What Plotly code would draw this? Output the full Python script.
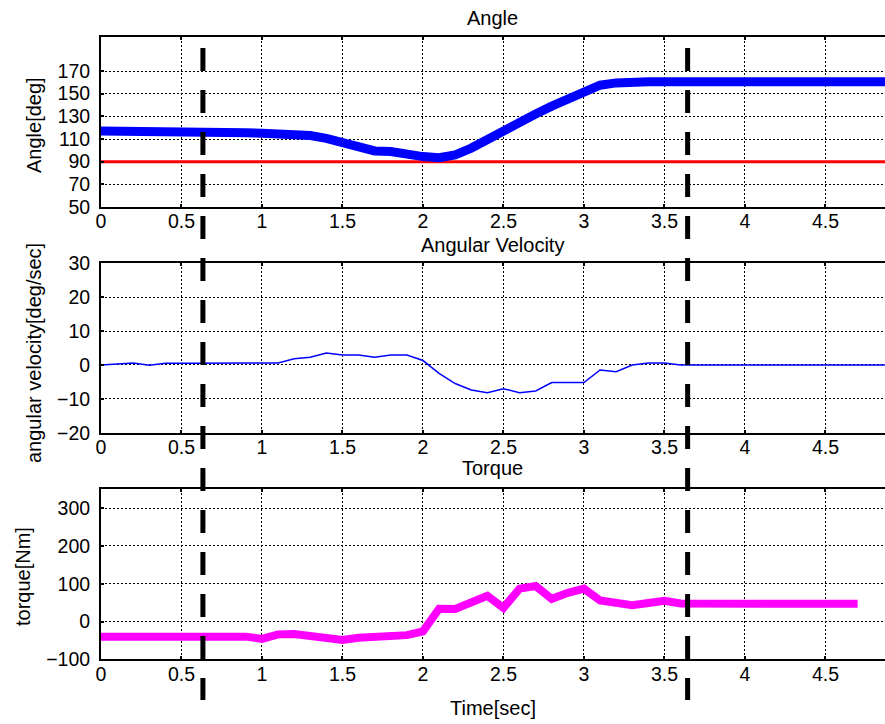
import plotly.graph_objects as go
from plotly.subplots import make_subplots

# ---- data ----
time = [round(0.1 * i, 1) for i in range(50)]
angle = [117, 117, 117, 117, 117, 117, 117, 117, 116.5, 115.5,
         115, 114.5, 113.5, 113, 110.5, 107, 104, 99.5, 99, 96,
         94.5, 93.5, 96, 102, 110, 117, 125, 132, 139, 145.5,
         153, 157.5, 159.5, 160.5, 160.5, 160.5, 160.5, 160.5, 160.5, 160.5,
         160.5, 160.5, 160.5, 160.5, 160.5, 160.5, 160.5, 160.5, 160.5, 160.5]
reference_angle = [90] * 50
velocity = [0, 0.2, 0.6, -0.1, 0.5, 0.5, 0.5, 0.5, 0.5, 0.5,
            0.5, 0.6, 1.8, 2.3, 3.5, 2.9, 2.9, 2.3, 2.9, 2.9,
            1.3, -2.5, -5.5, -7.4, -8.2, -7, -8.2, -7.7, -5.2, -5.2,
            -5.2, -1.5, -2, 0, 0.6, 0.6, 0, 0, 0, 0,
            0, 0, 0, 0, 0, 0, 0, 0, 0, 0]
torque_time = time[:48]
torque = [-40, -40, -40, -40, -40, -40, -40, -40, -40, -40,
          -46, -34, -33, -38, -44, -49, -43, -42, -42, -36,
          -26, 34, 33, 48, 68, 36, 87, 94, 60, 76,
          87, 56, 50, 43, 49, 55, 48, 47, 47, 47,
          47, 47, 47, 47, 47, 47, 47, 47]
event_times = [0.633, 3.644]

x_ticks = [0, 0.5, 1, 1.5, 2, 2.5, 3, 3.5, 4, 4.5]
x_tick_text = ["0", "0.5", "1", "1.5", "2", "2.5", "3", "3.5", "4", "4.5"]
angle_ticks = [50, 70, 90, 110, 130, 150, 170]
vel_ticks = [-20, -10, 0, 10, 20, 30]
torque_ticks = [-100, 0, 100, 200, 300]

W, H = 885, 724
FONT = "Liberation Sans, Arial, sans-serif"

fig = make_subplots(rows=3, cols=1)

fig.add_trace(go.Scatter(x=time, y=reference_angle, mode="lines",
                         line=dict(color="#ff0000", width=3)), row=1, col=1)
fig.add_trace(go.Scatter(x=time, y=angle, mode="lines",
                         line=dict(color="#0000ff", width=9)), row=1, col=1)
fig.add_trace(go.Scatter(x=time, y=velocity, mode="lines",
                         line=dict(color="#0000ff", width=1.5)), row=2, col=1)
fig.add_trace(go.Scatter(x=torque_time, y=torque, mode="lines",
                         line=dict(color="#ff00ff", width=8)), row=3, col=1)

def py(p):
    return 1 - p / H

xdom = [101 / W, 1]
ydoms = [[py(207), py(37)], [py(432.7), py(263.3)], [py(659.3), py(489.3)]]
yranges = [[50, 200], [-20, 30], [-100, 350]]
yticks = [angle_ticks, vel_ticks, torque_ticks]

axcommon = dict(showline=True, linecolor="black", linewidth=2,
                showgrid=True, gridcolor="black", gridwidth=1.3, griddash="2px,2px",
                ticks="inside", ticklen=3, tickcolor="black", tickwidth=2,
                zeroline=False, automargin=False,
                tickfont=dict(family=FONT, size=19.5, color="black"))

for i in range(3):
    fig.update_xaxes(domain=xdom, range=[0, 4.87], tickvals=x_ticks, ticktext=x_tick_text,
                     mirror="ticks", ticklabelstandoff=-4, row=i + 1, col=1, **axcommon)
    fig.update_yaxes(domain=ydoms[i], range=yranges[i], tickvals=yticks[i],
                     ticklabelstandoff=5, row=i + 1, col=1, **axcommon)

for t in event_times:
    fig.add_shape(type="line", xref="x", yref="paper", x0=t, x1=t,
                  y0=py(48), y1=py(700),
                  line=dict(color="black", width=5, dash="23px,19px"))

def ann(text, x, y, angle=0, size=20):
    fig.add_annotation(text=text, x=x / W, y=py(y), xref="paper", yref="paper",
                       showarrow=False, xanchor="center", yanchor="middle",
                       textangle=angle, font=dict(family=FONT, size=size, color="black"))

ann("Angle", 493, 18)
ann("Angular Velocity", 493, 245)
ann("Torque", 493, 468)
ann("Time[sec]", 493, 708)
ann("Angle[deg]", 34, 125, -90)
ann("angular velocity[deg/sec]", 34, 353, -90)
ann("torque[Nm]", 23, 577, -90)

fig.update_layout(width=W, height=H, margin=dict(l=0, r=0, t=0, b=0),
                  plot_bgcolor="white", paper_bgcolor="white", showlegend=False)

fig.write_html("out.html")
